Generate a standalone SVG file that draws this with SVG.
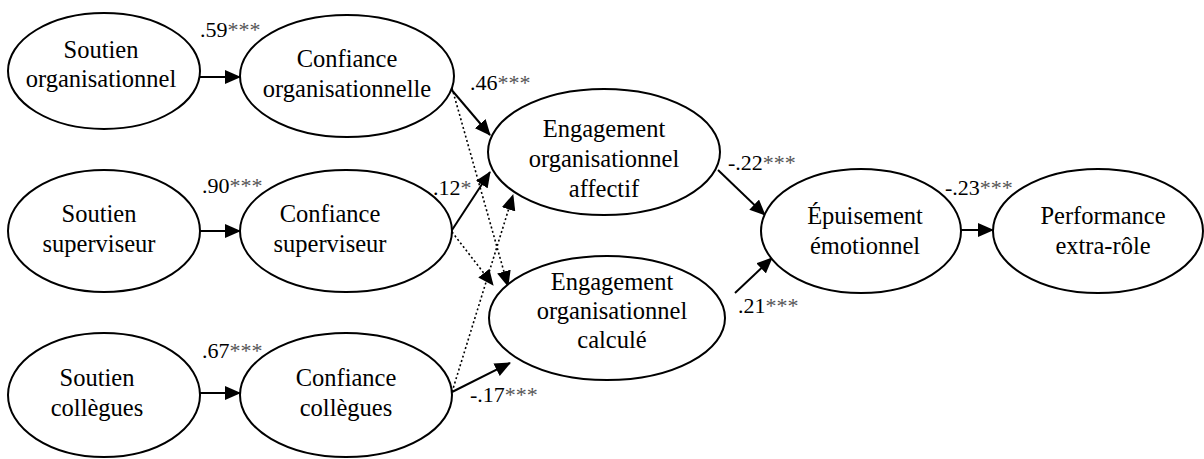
<svg xmlns="http://www.w3.org/2000/svg" width="1204" height="459" viewBox="0 0 1204 459">
<defs>
<marker id="ah" markerUnits="userSpaceOnUse" markerWidth="16" markerHeight="14" refX="15" refY="7" orient="auto" viewBox="0 0 16 14">
<path d="M0,0 L16,7 L0,14 Z" fill="#000"/>
</marker>
<style>
text{font-family:'Liberation Serif','Times New Roman','DejaVu Serif',serif}
.node ellipse{fill:#fff;stroke:#000;stroke-width:2}
.node text{font-size:24.5px;fill:#000;text-anchor:middle}
.edge{fill:none;stroke:#000;stroke-width:2;marker-end:url(#ah)}
.dot{stroke-width:1.6;stroke-dasharray:2 2.5}
.lbl{font-size:22px;fill:#000}
.ast{fill:#555}
</style>
</defs>
<rect width="1204" height="459" fill="#fff"/>
<g id="connectors">
<path class="edge" d="M199,77 L240,77"/>
<path class="edge" d="M199,231 L240,231"/>
<path class="edge" d="M199,393 L240,393"/>
<path class="edge" d="M450,88 L490,135"/>
<path class="edge" d="M452,230 L490,172"/>
<path class="edge dot" d="M452,392 L513,195"/>
<path class="edge dot" d="M452,88 L508,286"/>
<path class="edge dot" d="M452,232 L493,285"/>
<path class="edge" d="M452,392 L510,363"/>
<path class="edge" d="M718,170 L765,215"/>
<path class="edge" d="M735,293 L772,258"/>
<path class="edge" d="M961,230 L993,230"/>
</g>
<g id="labels">
<text class="lbl" x="200" y="37">.59<tspan class="ast">***</tspan></text>
<text class="lbl" x="202" y="193">.90<tspan class="ast">***</tspan></text>
<text class="lbl" x="202" y="358">.67<tspan class="ast">***</tspan></text>
<text class="lbl" x="470" y="90">.46<tspan class="ast">***</tspan></text>
<text class="lbl" x="433" y="195">.12<tspan class="ast">*</tspan></text>
<text class="lbl" x="470" y="402">-.17<tspan class="ast">***</tspan></text>
<text class="lbl" x="728" y="170">-.22<tspan class="ast">***</tspan></text>
<text class="lbl" x="945" y="195">-.23<tspan class="ast">***</tspan></text>
<text class="lbl" x="738" y="313">.21<tspan class="ast">***</tspan></text>
</g>
<g id="n1" class="node"><ellipse cx="104" cy="71" rx="96" ry="58"/><text x="101" y="58">Soutien</text><text x="101" y="87">organisationnel</text></g>
<g id="n2" class="node"><ellipse cx="347" cy="76" rx="107" ry="61"/><text x="347" y="67">Confiance</text><text x="347" y="97">organisationnelle</text></g>
<g id="n3" class="node"><ellipse cx="104" cy="231" rx="96" ry="61"/><text x="99" y="222">Soutien</text><text x="99" y="252">superviseur</text></g>
<g id="n4" class="node"><ellipse cx="346" cy="231" rx="106" ry="61"/><text x="330" y="222">Confiance</text><text x="330" y="252">superviseur</text></g>
<g id="n5" class="node"><ellipse cx="104" cy="395" rx="96" ry="62"/><text x="97" y="386">Soutien</text><text x="97" y="416">collègues</text></g>
<g id="n6" class="node"><ellipse cx="346" cy="395" rx="106" ry="62"/><text x="346" y="386">Confiance</text><text x="346" y="416">collègues</text></g>
<g id="n7" class="node"><ellipse cx="604" cy="152" rx="116" ry="63"/><text x="604" y="137">Engagement</text><text x="604" y="167">organisationnel</text><text x="604" y="197">affectif</text></g>
<g id="n8" class="node"><ellipse cx="607" cy="318" rx="118" ry="62"/><text x="612" y="290">Engagement</text><text x="612" y="319">organisationnel</text><text x="612" y="348">calculé</text></g>
<g id="n9" class="node"><ellipse cx="861" cy="231" rx="100" ry="62"/><text x="865" y="224">Épuisement</text><text x="865" y="254">émotionnel</text></g>
<g id="n10" class="node"><ellipse cx="1098" cy="231" rx="105" ry="62"/><text x="1103" y="224">Performance</text><text x="1103" y="254">extra-rôle</text></g>
</svg>
